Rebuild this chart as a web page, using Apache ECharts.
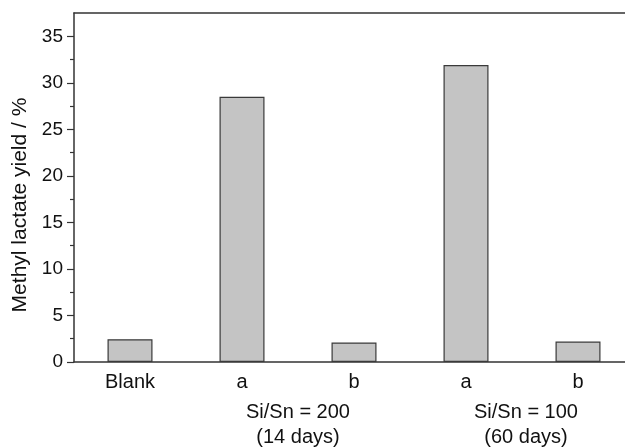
<!DOCTYPE html>
<html>
<head>
<meta charset="utf-8">
<script src="https://cdn.jsdelivr.net/npm/echarts@6/dist/echarts.min.js"></script>
<style>
html,body{margin:0;padding:0;background:#fff;}
#main{width:625px;height:447px;}
</style>
</head>
<body>
<div id="main"></div>
<script>
var categories = ['Blank', 'a', 'b', 'a', 'b'];
var yieldValues = [2.45, 28.5, 2.1, 31.9, 2.2];
var yTicks = [0, 5, 10, 15, 20, 25, 30, 35];
var groupLabels = [
    { text: 'Si/Sn = 200\n(14 days)', from: 1, to: 2 },
    { text: 'Si/Sn = 100\n(60 days)', from: 3, to: 4 }
];

var chart = echarts.init(document.getElementById('main'));
var font = 'Liberation Sans, Arial, sans-serif';

chart.setOption({
    animation: false,
    grid: { left: 74, top: 13, width: 560, height: 349, outerBoundsMode: 'none', containLabel: false },
    xAxis: [{
        type: 'category',
        data: categories,
        axisLine: { lineStyle: { color: '#333', width: 1.5 } },
        axisTick: { show: false },
        axisLabel: { color: '#111', fontSize: 20, fontFamily: font, margin: 10 }
    }, {
        type: 'category',
        position: 'top',
        data: categories,
        axisLine: { lineStyle: { color: '#333', width: 1.5 } },
        axisTick: { show: false },
        axisLabel: { show: false }
    }],
    yAxis: {
        type: 'value',
        min: 0,
        max: 37.5,
        interval: 5,
        name: 'Methyl lactate yield / %',
        nameLocation: 'middle',
        nameGap: 38,
        nameTextStyle: { color: '#111', fontSize: 21, fontFamily: font, padding: [0, 35, 0, 0] },
        axisLine: { show: true, lineStyle: { color: '#333', width: 1.5 } },
        axisTick: { show: true, length: 7, customValues: yTicks, lineStyle: { color: '#333', width: 1.2 } },
        minorTick: { show: true, splitNumber: 2, length: 4, lineStyle: { color: '#333', width: 1.2 } },
        splitLine: { show: false },
        axisLabel: {
            color: '#111', fontSize: 19, fontFamily: font, margin: 11,
            formatter: function (v) { return yTicks.indexOf(v) >= 0 ? String(v) : ''; }
        }
    },
    series: [{
        type: 'bar',
        data: yieldValues,
        barWidth: 45,
        itemStyle: { color: '#c4c4c4', borderColor: '#3a3a3a', borderWidth: 1.2 }
    }]
});

// group labels under the a/b pairs
var texts = [];
for (var i = 0; i < groupLabels.length; i++) {
    var g = groupLabels[i];
    var x1 = chart.convertToPixel({ xAxisIndex: 0 }, g.from);
    var x2 = chart.convertToPixel({ xAxisIndex: 0 }, g.to);
    texts.push({
        type: 'text',
        x: (x1 + x2) / 2 + (i === 1 ? 4 : 0),
        y: 400,
        style: {
            text: g.text,
            textAlign: 'center',
            fill: '#111',
            font: '20px ' + font,
            lineHeight: 25
        }
    });
}
chart.setOption({ graphic: texts });
</script>
</body>
</html>
